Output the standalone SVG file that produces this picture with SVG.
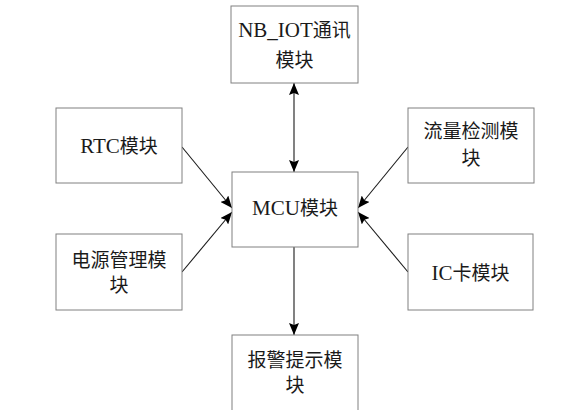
<svg xmlns="http://www.w3.org/2000/svg" width="587" height="410" viewBox="0 0 587 410">
<style>
rect{fill:#fff;stroke:#808080;stroke-width:1}
text{font-family:"Liberation Serif","Noto Sans CJK SC",serif;font-size:19px;fill:#1a1a1a;text-anchor:middle}
.l{font-family:"Liberation Serif",serif;font-size:21px}
.c line{stroke:#1a1a1a;stroke-width:1.1}
</style>
<defs>
<marker id="a" viewBox="0 0 12 10" refX="12" refY="5" markerWidth="12" markerHeight="10" markerUnits="userSpaceOnUse" orient="auto-start-reverse">
<path d="M0,0 L12,5 L0,10 L2,5 z" fill="#000"/>
</marker>
</defs>
<rect x="0" y="0" width="587" height="410" style="stroke:none"/>
<g class="c" id="connectors">
<line x1="294" y1="83" x2="294" y2="172" marker-start="url(#a)" marker-end="url(#a)"/>
<line x1="294" y1="247" x2="294" y2="335" marker-end="url(#a)"/>
<line x1="182" y1="147" x2="232" y2="208" marker-end="url(#a)"/>
<line x1="182" y1="272" x2="232" y2="212" marker-end="url(#a)"/>
<line x1="408" y1="147" x2="358" y2="208" marker-end="url(#a)"/>
<line x1="408" y1="272" x2="358" y2="212" marker-end="url(#a)"/>
</g>
<g id="nbiot"><rect x="231" y="6" width="127" height="77"/><text x="294.5" y="37"><tspan class="l">NB_IOT</tspan>通讯</text><text x="294.5" y="67">模块</text></g>
<g id="rtc"><rect x="56" y="108" width="126" height="75"/><text x="119" y="153"><tspan class="l">RTC</tspan>模块</text></g>
<g id="flow"><rect x="408" y="108" width="126" height="75"/><text x="471" y="138">流量检测模</text><text x="471" y="165">块</text></g>
<g id="mcu"><rect x="232" y="172" width="126" height="75"/><text x="295" y="215"><tspan class="l">MCU</tspan>模块</text></g>
<g id="power"><rect x="56" y="234" width="126" height="76"/><text x="119" y="267">电源管理模</text><text x="119" y="292">块</text></g>
<g id="ic"><rect x="408" y="234" width="125" height="76"/><text x="470.5" y="280"><tspan class="l">IC</tspan>卡模块</text></g>
<g id="alarm"><rect x="232" y="335" width="126" height="90"/><text x="295" y="367">报警提示模</text><text x="295" y="392">块</text></g>
</svg>
